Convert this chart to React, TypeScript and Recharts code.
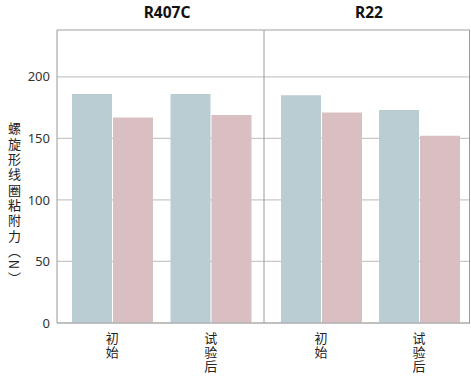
import React from 'react';
import { BarChart, Bar, XAxis, YAxis, CartesianGrid, ReferenceLine } from 'recharts';

const panels = ['R407C', 'R22'];
const categories = ['初始', '试验后'];
const r407cBlue = [186, 186];
const r407cPink = [167, 169];
const r22Blue = [185, 173];
const r22Pink = [171, 152];
const yTicks = [0, 50, 100, 150, 200];
const yMax = 238;

const BLUE = '#b9cdd3';
const PINK = '#d9bfc2';
const GRID = '#c8c8c8';
const AXIS = '#9a9a9a';
const FONT = '"Noto Sans", "Noto Sans CJK SC", sans-serif';
const CJK = '"Noto Sans CJK SC", sans-serif';

const makeRows = (a: number[], b: number[]) =>
  categories.map((name, i) => ({ name, blue: a[i], pink: b[i] }));

// category names are written top-to-bottom, one character per row
const StackedTick = (props: any) => {
  const { x, y, payload } = props;
  return (
    <text
      x={x}
      y={y + 9}
      fontSize={13}
      fill="#222"
      fontFamily={CJK}
      letterSpacing={1}
      style={{ writingMode: 'vertical-rl' }}
    >
      {payload.value}
    </text>
  );
};

const NoTick = () => <g />;

const CHART_H = 377;

// one panel = one small bar chart; the first one carries the value axis
const Panel = ({ rows, first, pad }: { rows: any[]; first: boolean; pad: { left: number; right: number } }) => (
  <BarChart
    width={first ? 264 : 208}
    height={CHART_H}
    data={rows}
    margin={{ top: 30, right: first ? 0 : 1, bottom: 0, left: 0 }}
    barSize={40}
    barGap={1}
  >
    <CartesianGrid vertical={false} stroke={GRID} strokeWidth={1.2} />
    <XAxis
      dataKey="name"
      height={54}
      padding={pad}
      axisLine={{ stroke: '#b4b4b4', strokeWidth: 1.5 }}
      tickLine={false}
      tickSize={0}
      tickMargin={0}
      interval={0}
      tick={<StackedTick />}
    />
    <YAxis
      width={first ? 57 : 1}
      domain={[0, yMax]}
      ticks={yTicks}
      axisLine={{ stroke: AXIS }}
      tickLine={false}
      tickSize={0}
      tickMargin={7}
      tick={first ? { fontSize: 13, fill: '#333', fontFamily: FONT } : <NoTick />}
    />
    <ReferenceLine y={yMax} stroke={GRID} strokeWidth={1.5} />
    <Bar dataKey="blue" fill={BLUE} isAnimationActive={false} />
    <Bar dataKey="pink" fill={PINK} isAnimationActive={false} />
  </BarChart>
);

export default function App() {
  return (
    <div style={{ position: 'absolute', left: 0, top: 0, width: 471, height: 377, background: '#fff' }}>
      <div style={{ position: 'absolute', left: 0, top: 0 }}>
        <Panel rows={makeRows(r407cBlue, r407cPink)} first={true} pad={{ left: 6, right: 4 }} />
      </div>
      <div style={{ position: 'absolute', left: 263, top: 0 }}>
        <Panel rows={makeRows(r22Blue, r22Pink)} first={false} pad={{ left: 8, right: 2 }} />
      </div>
      {/* right frame line */}
      <div style={{ position: 'absolute', left: 469, top: 30, width: 1, height: 293, background: AXIS }} />
      {/* panel titles */}
      <div style={{ position: 'absolute', left: 117, top: 1, width: 100, textAlign: 'center', fontFamily: FONT, fontWeight: 700, fontSize: 15.5, color: '#111' }}>
        {panels[0]}
      </div>
      <div style={{ position: 'absolute', left: 319, top: 1, width: 100, textAlign: 'center', fontFamily: FONT, fontWeight: 700, fontSize: 15.5, color: '#111' }}>
        {panels[1]}
      </div>
      {/* value axis title */}
      <div
        style={{
          position: 'absolute',
          left: 6,
          top: 122,
          writingMode: 'vertical-rl',
          fontFamily: CJK,
          fontSize: 13,
          letterSpacing: 2.3,
          color: '#222',
          lineHeight: '16px',
        }}
      >
        螺旋形线圈粘附力（N）
      </div>
    </div>
  );
}
